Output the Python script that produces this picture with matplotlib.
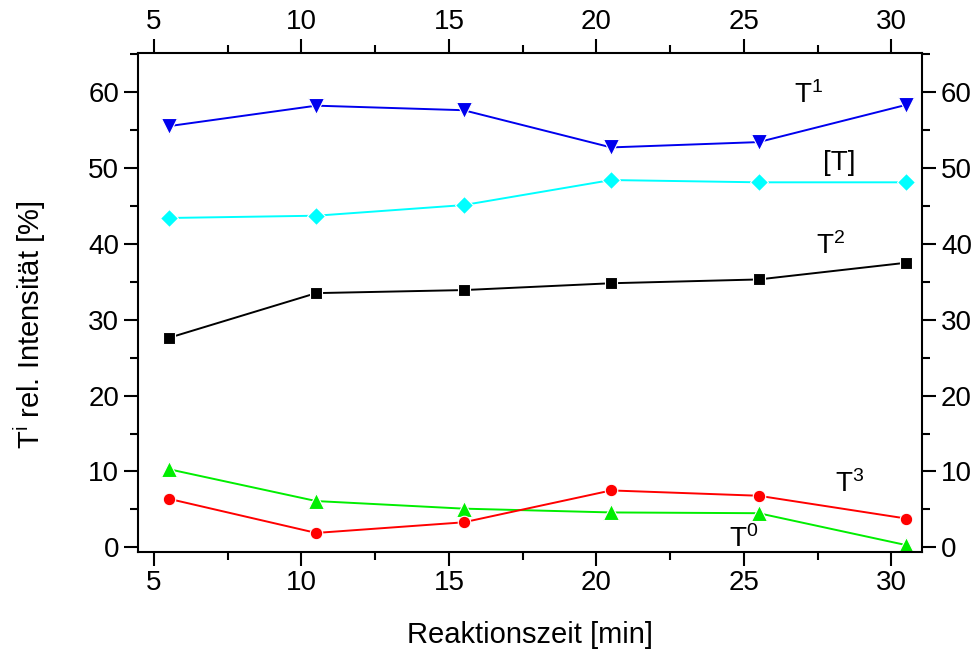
import matplotlib.pyplot as plt
from matplotlib.ticker import MultipleLocator

plt.rcParams['font.family'] = ['Liberation Sans', 'DejaVu Sans']
plt.rcParams['mathtext.fontset'] = 'custom'
plt.rcParams['mathtext.rm'] = 'Liberation Sans'
plt.rcParams['mathtext.it'] = 'Liberation Sans'

t = [5.5, 10.5, 15.5, 20.5, 25.5, 30.5]
T1 = [55.5, 58.2, 57.6, 52.7, 53.4, 58.3]
Tmean = [43.4, 43.7, 45.1, 48.4, 48.1, 48.1]
T2 = [27.6, 33.5, 33.9, 34.8, 35.3, 37.5]
T0 = [10.3, 6.1, 5.1, 4.6, 4.5, 0.3]
T3 = [6.4, 1.9, 3.3, 7.5, 6.8, 3.8]

fig = plt.figure(figsize=(9.77, 6.5), dpi=100)
ax = fig.add_axes([0.141, 0.1515, 0.803, 0.7665])

ax.plot(t, T1, color='#0000ee', marker='v', ms=11, mec='white', mew=0.8, lw=1.4)
ax.plot(t, Tmean, color='cyan', marker='D', ms=9, mec='white', mew=0.8, lw=1.4)
ax.plot(t, T2, color='black', marker='s', ms=8, mec='white', mew=0.8, lw=1.4)
ax.plot(t, T0, color='#00ee00', marker='^', ms=11, mec='white', mew=0.8, lw=1.4)
ax.plot(t, T3, color='red', marker='o', ms=9, mec='white', mew=0.8, lw=1.4)

fs = 20
ax.text(27.2, 59.6, 'T$^\\mathrm{1}$', fontsize=fs, ha='center', va='center')
ax.text(28.25, 50.6, '[T]', fontsize=fs, ha='center', va='center')
ax.text(27.95, 39.7, 'T$^\\mathrm{2}$', fontsize=fs, ha='center', va='center')
ax.text(28.6, 8.35, 'T$^\\mathrm{3}$', fontsize=fs, ha='center', va='center')
ax.text(25.0, 1.1, 'T$^\\mathrm{0}$', fontsize=fs, ha='center', va='center')

ax.set_xlim(4.45, 31.05)
ax.set_ylim(-0.55, 65.1)
ax.xaxis.set_major_locator(MultipleLocator(5))
ax.xaxis.set_minor_locator(MultipleLocator(2.5))
ax.yaxis.set_major_locator(MultipleLocator(10))
ax.yaxis.set_minor_locator(MultipleLocator(5))
ax.tick_params(which='both', direction='out', top=True, right=True,
               labeltop=True, labelright=True, labelsize=fs, width=1.5)
ax.tick_params(which='major', length=10)
ax.tick_params(which='minor', length=6)
for s in ax.spines.values():
    s.set_linewidth(1.5)

ax.set_xlabel('Reaktionszeit [min]', fontsize=21)
ax.set_ylabel('T$^\\mathrm{i}$ rel. Intensität [%]', fontsize=21)
ax.xaxis.set_label_coords(0.5, -0.139)
ax.yaxis.set_label_coords(-0.114, 0.454)

fig.savefig('out.png', dpi=100)
